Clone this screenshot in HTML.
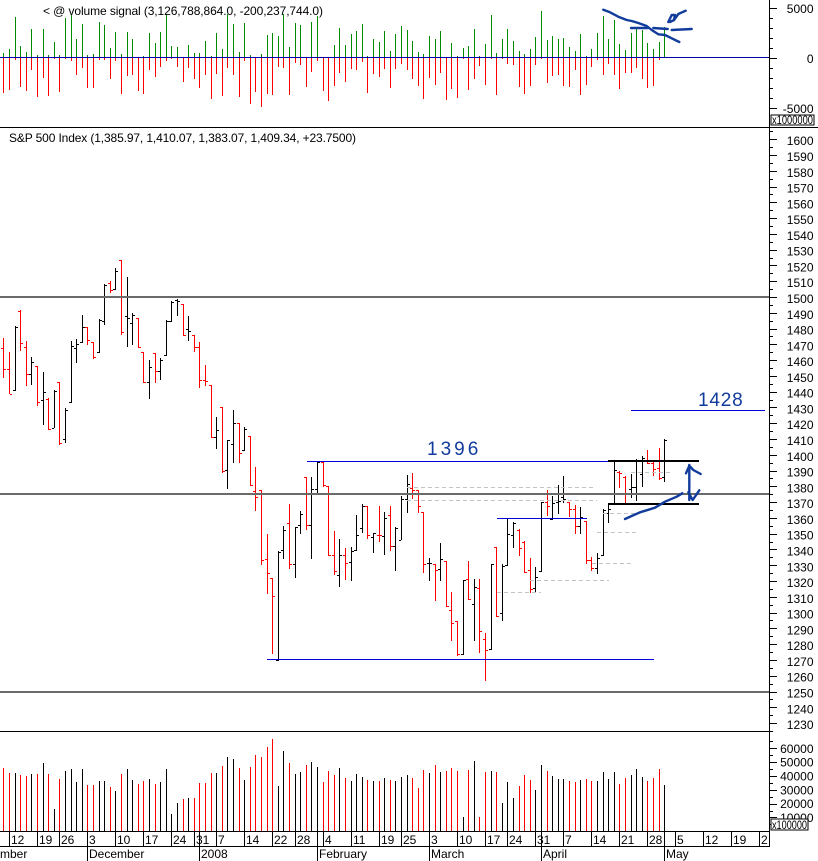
<!DOCTYPE html>
<html lang="en">
<head>
<meta charset="utf-8">
<title>S&amp;P 500 Index chart</title>
<style>
html,body{margin:0;padding:0;background:#fff;}
svg{display:block;font-family:"Liberation Sans",Arial,sans-serif;font-size:12px;fill:#000;}
</style>
</head>
<body>
<svg id="chart" xmlns="http://www.w3.org/2000/svg" width="818" height="861" viewBox="0 0 818 861" shape-rendering="crispEdges">
  <rect x="0" y="0" width="818" height="861" fill="#fff"/>
  <g id="signal-panel"></g>
  <g id="price-panel"></g>
  <g id="volume-panel"></g>
  <g id="annotations"></g>
  <g id="axes"></g>
  <text x="43" y="15" textLength="280">&lt; @ volume signal (3,126,788,864.0, -200,237,744.0)</text>
  <text x="9" y="142" textLength="347">S&amp;P 500 Index (1,385.97, 1,410.07, 1,383.07, 1,409.34, +23.7500)</text>
  <text x="427" y="455" font-size="19" letter-spacing="3" style="fill:#123c9c">1396</text>
  <text x="698" y="406" font-size="19" letter-spacing="0.8" style="fill:#123c9c">1428</text>
</svg>
<script>
const directions = "RRKRRKRKRKRKKKKRRKKRKRKKRRKRKKKKRKRRRRKRKKRKRRRRRKKRKKRKKRRRKRKKKRKRKRKKKRRRKRKRRRKRKRRKRKKKRRRKKRKKKRRKRRKKKKRRKKKRRRK".split("");
const opens = [1467.5,1454.2,1440.9,1491.4,1468.1,1451,1456.1,1434.5,1435.4,1417,
1446.2,1409.8,1433.3,1467.5,1471.7,1480.8,1471.5,1465,1484.6,1508.9,
1504.9,1523.5,1487.8,1483.3,1486.5,1465,1446,1464.5,1452.9,1463.1,
1484.8,1498.1,1495.6,1479.5,1475.7,1468.1,1447.4,1444.3,1411.5,1430.3,
1390.2,1406.7,1420,1402.9,1411.9,1376.9,1377.5,1333.8,1322,1269.8,
1339.5,1356.6,1330.6,1355.3,1386,1355.3,1378.1,1395.2,1380,1336.3,
1323.7,1336.3,1331.9,1339.7,1353.4,1367.6,1347.7,1349,1348.4,1361.7,
1342,1346,1371.8,1378.8,1377.5,1363.8,1331.2,1330.8,1327.4,1332.5,
1301.5,1294.7,1273.6,1321.1,1305.3,1315.4,1283.1,1276.7,1341.6,1299.6,
1330,1349,1352.6,1345,1326.8,1315.4,1326.2,1369.9,1359.3,1370.1,
1373.1,1369.9,1365.5,1354.7,1357.9,1333.1,1328.1,1336.3,1363.4,1369.3,
1389.1,1386.2,1378.1,1379.8,1387.6,1396.7,1395,1391.4,1385.97];
const highs = [1473.8,1465.2,1481.4,1491.8,1472.1,1462,1456.3,1452.5,1436,1440.9,
1446.2,1429.7,1472.1,1473.4,1488.6,1481,1471.5,1486.1,1508.3,1510.2,
1518.4,1523.5,1512.7,1489.9,1486.7,1465.2,1460.1,1464.5,1461.4,1485.4,
1497.5,1498.8,1495.6,1488,1475.9,1471.5,1456.9,1444.3,1424,1430.3,
1409.4,1428.4,1420.2,1417.7,1411.9,1392.3,1377.7,1349.8,1322,1339.1,
1354.9,1368.8,1354.3,1364.4,1386,1386,1395.5,1395.5,1380.3,1351.7,
1346.7,1341,1341.6,1361.9,1368.8,1367.6,1350.5,1367.6,1363.8,1367.6,
1354.3,1373.9,1387.2,1388.5,1377.7,1363.8,1334.6,1330.8,1344.1,1332.5,
1313.1,1294.7,1320.7,1332.7,1321.3,1321.3,1287.1,1330.6,1341.6,1330.6,
1359.8,1357.2,1352.8,1345.2,1334.6,1328.9,1370.1,1377.7,1373.9,1380.9,
1386.6,1370.1,1368.2,1366.9,1358.1,1335.3,1337.8,1365.7,1368.8,1396.1,
1389.7,1386.6,1387.8,1397.3,1399.2,1403,1396.1,1404.3,1410.07];
const lows = [1448.7,1438.8,1440.5,1465.8,1443.6,1444.3,1431,1418.9,1415.8,1417,
1406.2,1407.5,1432.9,1458.2,1470.9,1469.6,1460.7,1464.5,1482.3,1502.6,
1504.5,1475.9,1468.3,1469.6,1467.7,1445.5,1435.4,1445.5,1447.4,1462.6,
1484.2,1488,1475.3,1472.1,1465.2,1442.4,1443.6,1410.7,1403.7,1388.5,
1378.4,1394.8,1394.8,1402.4,1380.3,1364.4,1330.2,1311.8,1273.8,1269.4,
1334,1327.7,1322,1349.8,1352.4,1334,1375.8,1379.6,1335.9,1323.9,
1316.3,1320.7,1320.1,1339.1,1350.5,1346.7,1337.8,1344.8,1336.5,1339.1,
1326.4,1346,1363.1,1372,1363.1,1325.1,1320,1307.4,1320,1303.6,
1282,1272.5,1273.2,1308,1282,1274.4,1256.9,1276.3,1297.2,1294.7,
1329.5,1341,1335.9,1325.1,1312.4,1313.1,1325.7,1361.2,1358.7,1362.5,
1369.5,1360.6,1349.8,1349.8,1330.8,1326.4,1324.5,1335.9,1356.8,1368.8,
1379,1368.8,1372.6,1370.7,1379.6,1394.2,1386.6,1384,1383.07];
const closes = [1454.2,1438.8,1480.8,1470.7,1451,1458.6,1433.3,1439.6,1416.2,1440.5,
1407.3,1428.2,1469.2,1470,1480.8,1472.6,1462.2,1485.2,1507.6,1504.5,
1516.3,1477.6,1486.5,1488.4,1468.1,1446,1455.5,1452.9,1460.3,1484.6,
1496.9,1497.3,1475.7,1478.3,1468.1,1447.2,1447,1411.5,1415.5,1389.8,
1409.2,1420,1401.2,1416.2,1380.7,1373.1,1333.2,1324.9,1310.3,1338.2,
1352.2,1330.6,1354.3,1362.3,1355.3,1378.1,1395.2,1380.7,1336.3,1326.2,
1336.3,1331.3,1338.9,1349,1367.4,1349,1350.3,1349,1359.8,1342,
1353.4,1371.8,1381.3,1377.7,1367.4,1330.6,1331.2,1326.8,1333.8,1304,
1293.2,1273.6,1320.7,1308.4,1316.5,1288.2,1276.1,1330.6,1297.7,1329.5,
1349.6,1356.6,1341,1325.5,1314.8,1322.4,1369.9,1367.4,1369.3,1370.5,
1372.2,1365.5,1354.7,1360.4,1333.1,1328.1,1334.4,1364.8,1365.5,1390.2,
1388.3,1375.6,1379.4,1396.7,1397.8,1395,1390.8,1385.1,1409.34];
const volumes = [45800,42200,42200,40700,40000,41400,41400,49400,41400,16100,
37800,43600,45000,35700,45000,33500,33500,36400,36400,32000,
29200,41400,45000,37100,34200,36400,37800,34200,35700,45000,
12500,20500,23400,24100,24100,34900,34900,42200,42200,47200,
53700,52300,45800,37100,46500,55200,53700,61000,66700,32800,
58000,49400,41400,42900,48000,50000,46500,35700,43600,40700,
45800,38600,36400,41400,39300,37100,36400,36400,38600,37100,
36400,39300,40700,38600,31300,44300,42200,48000,42900,43600,
45800,43600,10400,44300,50800,10400,42900,43600,42900,20500,
35700,24100,32800,40700,37100,29900,48000,43600,40000,37800,
37800,36400,35700,37100,37800,36400,36400,42900,37800,42900,
34200,38600,40700,45000,39300,36400,38600,45000,33500];
const signalUp = [433,833,4033,1133,533,2833,233,2833,233,1533,
233,3933,4333,1833,3333,233,333,3533,3233,933,
2533,333,2533,1833,0,133,2433,1433,2533,4333,
1133,1033,0,1233,433,433,1633,133,2433,833,
4333,3333,533,3433,233,0,333,2233,2433,2133,
4333,1033,3433,3233,0,3533,4133,0,0,1233,
2933,1233,2333,2633,3333,133,1833,1533,2633,633,
2333,3133,2733,1633,533,333,2133,1833,2633,0,
1433,133,933,1133,2833,133,1333,4233,433,1833,
2833,1633,633,333,833,2033,4633,1733,2133,1833,
1933,1033,633,2333,133,833,2433,4133,1833,3733,
1333,733,2433,2833,2733,1433,833,1533,3033];
const signalDown = [-3533,-3267,-267,-2967,-3367,-1267,-3967,-2067,-3867,-167,
-3467,-167,-367,-1767,-1067,-3067,-3067,-267,-267,-2167,
-367,-3667,-1867,-1767,-3367,-3667,-1267,-1967,-967,-367,
-167,-967,-2467,-1067,-2167,-3067,-1767,-4167,-1667,-3867,
-1067,-1767,-3967,-367,-4667,-3467,-4967,-3667,-3767,-967,
-1067,-3767,-567,-767,-2967,-1467,-367,-3367,-4367,-2867,
-1567,-2467,-1167,-1267,-467,-3567,-1667,-1967,-1167,-3067,
-1167,-667,-1267,-2167,-2867,-4167,-2067,-2767,-1567,-4267,
-3167,-4067,-167,-3267,-2167,-867,-2767,-167,-3767,-167,
-667,-767,-2967,-3667,-2867,-767,-167,-2567,-1867,-1767,
-2867,-2967,-1267,-3767,-2767,-967,-267,-1767,-667,-1767,
-3167,-1567,-1567,-1067,-2167,-3067,-2867,-267];
const weekTickIndexes = [1,6,10,15,20,25,30,34,38,43,48,52,57,62,67,71,76,81,86,90,95,100,105,110,115,120,125,130,135];
const weekTickLabels = ["12","19","26","3","10","17","24","31","7","14","22","28","4","11","19","25","3","10","17","24","31","7","14","21","28","5","12","19","2"];
const monthTickIndexes = [15,35,56,76,96,118];
const monthTickLabels = ["December","2008","February","March","April","May"];
const signalTickLabels = [5000,0,-5000];
const volumeTickLabels = [60000,50000,40000,30000,20000,10000];
const priceLevels = [1500,1375,1250];

const NS = "http://www.w3.org/2000/svg";
const RED = "#ff0000", BLACK = "#000000", GREEN = "#008c00", BLUE = "#0000e0", INK = "#123c9c", GRAY = "#6a6a6a";
const AXIS_X = 769;

function xOf(i){ return Math.round(3.4 + 5.6 * i); }
function priceY(p){ return 297 + (1500 - p) * 1.578; }
function signalY(v){ return 57.5 - v * 0.01; }
function volumeY(v){ return 831.3 - v * 0.001383; }

function rect(parent, x, y, w, h, fill){
  const el = document.createElementNS(NS, "rect");
  el.setAttribute("x", x);
  el.setAttribute("y", y);
  el.setAttribute("width", w);
  el.setAttribute("height", h);
  el.setAttribute("fill", fill);
  parent.appendChild(el);
  return el;
}
function label(parent, str, x, y, anchor){
  const el = document.createElementNS(NS, "text");
  el.setAttribute("x", x);
  el.setAttribute("y", y);
  if (anchor) el.setAttribute("text-anchor", anchor);
  el.textContent = str;
  parent.appendChild(el);
  return el;
}
function stroke(parent, pts, w, col){
  const el = document.createElementNS(NS, "polyline");
  el.setAttribute("points", pts.map(p => p.join(",")).join(" "));
  el.setAttribute("fill", "none");
  el.setAttribute("stroke", col);
  el.setAttribute("stroke-width", w);
  el.setAttribute("stroke-linecap", "round");
  el.setAttribute("stroke-linejoin", "round");
  el.setAttribute("shape-rendering", "auto");
  parent.appendChild(el);
  return el;
}

const signalPanel = document.getElementById("signal-panel");
const pricePanel = document.getElementById("price-panel");
const volumePanel = document.getElementById("volume-panel");
const annotations = document.getElementById("annotations");
const axes = document.getElementById("axes");

/* signal panel */
opens.forEach((_, i) => {
  const x = xOf(i);
  const y0 = Math.round(signalY(0));
  const yU = Math.round(signalY(signalUp[i]));
  const yD = Math.round(signalY(signalDown[i]));
  if (signalUp[i] > 0) {
    const up = rect(signalPanel, x, yU, 1, y0 - yU, GREEN);
    
    
  }
  const down = rect(signalPanel, x, y0, 1, yD - y0, RED);
  
  
});
const signalBase = rect(signalPanel, 0, Math.round(signalY(0)) - 1, AXIS_X, 1, "#0000a8");



/* price panel */
opens.forEach((_, i) => {
  const x = xOf(i);
  const col = directions[i] === "R" ? RED : BLACK;
  const g = document.createElementNS(NS, "g");
  
  
  const yH = Math.round(priceY(highs[i]));
  const yL = Math.round(priceY(lows[i]));
  rect(g, x, yH, 1, Math.max(1, yL - yH), col);
  rect(g, x - 2, Math.round(priceY(opens[i])), 2, 1, col);
  rect(g, x + 1, Math.round(priceY(closes[i])), 2, 1, col);
  pricePanel.appendChild(g);
});

/* volume panel */
volumes.forEach((v, i) => {
  const y = Math.round(volumeY(v));
  const bar = rect(volumePanel, xOf(i), y, 1, 831 - y, directions[i] === "R" ? RED : BLACK);
  
  
});

/* annotations */
priceLevels.forEach(p => {
  const line = rect(annotations, 0, Math.round(priceY(p)) - 1, AXIS_X, 2, GRAY);
  
  
});
[[407,596,1379.4],[407,597,1371.2],[631,670,1388.9],[603,640,1363],[597,636,1351],[592,631,1331.4],[530,609,1320.7],[497,541,1313]].forEach(d => {
  const y = Math.round(priceY(d[2]));
  const dash = document.createElementNS(NS, "line");
  
  
  dash.setAttribute("x1", d[0]);
  dash.setAttribute("x2", d[1]);
  dash.setAttribute("y1", y + 0.5);
  dash.setAttribute("y2", y + 0.5);
  dash.setAttribute("stroke", "#c4c4c4");
  dash.setAttribute("stroke-dasharray", "4 3");
  annotations.appendChild(dash);
});
[[307,608,1396],[267,654,1270.4],[497,587,1360],[631,765,1428.5]].forEach(d => {
  const line = rect(annotations, d[0], Math.round(priceY(d[2])), d[1] - d[0], 1, BLUE);
  
  
});
[[1396],[1369]].forEach(d => {
  const line = rect(annotations, 608, Math.round(priceY(d[0])) - 1, 91, 2, BLACK);
  
  
});
const inkStrokes = [
  [[603.3,9.7],[610,12.3],[618.3,16.7],[626.7,20],[631.7,21],[638.3,23],[646.7,26],[651.7,30],[658.3,34.3],[665,35],[671.7,38.3],[679.3,42]],
  [[631,28],[648,28]],
  [[653.3,28],[667.7,29]],
  [[671.7,30],[691.7,29]],
  [[668.3,22],[671.7,15],[675,15],[674,20],[670,22]],
  [[674,20],[678.3,14],[685.7,10.7]],
  [[689.3,465],[689.3,500]],
  [[686,473.3],[689.3,465.7],[693.3,470],[700.7,474]],
  [[688.3,492.3],[692.7,500],[699.3,490.3]],
  [[625,519],[640,512.3],[655,507.7],[665,501.7],[676.7,496.7],[682.3,493.3]]
];
inkStrokes.forEach(pts => {
  const s = stroke(annotations, pts, 2.4, INK);
  
  
});

/* axes frame */
const sep1 = rect(axes, 0, 127, 818, 1, BLACK);


const sep2 = rect(axes, 0, 731, AXIS_X, 1, BLACK);


const axisLine = rect(axes, AXIS_X, 0, 1, 846, BLACK);


const dateLine1 = rect(axes, 0, 831, AXIS_X, 1, BLACK);


const dateLine2 = rect(axes, 0, 846, AXIS_X + 1, 1, BLACK);



/* signal axis */
for (let v = -5000; v <= 5000; v += 1000) {
  const long = v % 5000 === 0;
  rect(axes, AXIS_X + 1, Math.round(signalY(v)), long ? 7 : 3, 1, BLACK);
}
signalTickLabels.forEach(v => {
  const t = label(axes, String(v), 813.5, signalY(v) + 5.5, "end");
  
  
});
const box1 = rect(axes, 771, 115, 43, 10, "#fff");
box1.setAttribute("stroke", BLACK);


const mult1 = label(axes, "x1000000", 772, 124);
mult1.setAttribute("textLength", "41");
mult1.setAttribute("lengthAdjust", "spacingAndGlyphs");



/* price axis */
for (let p = 1225; p <= 1605; p += 5) {
  const long = p % 10 === 0;
  rect(axes, AXIS_X + 1, Math.round(priceY(p)), long ? 7 : 3, 1, BLACK);
  if (long) {
    const t = label(axes, String(p), 813.5, priceY(p) + 6, "end");
    
    
  }
}

/* volume axis */
for (let v = 5000; v <= 65000; v += 5000) {
  const long = v % 10000 === 0;
  rect(axes, AXIS_X + 1, Math.round(volumeY(v)), long ? 7 : 3, 1, BLACK);
}
volumeTickLabels.forEach(v => {
  const t = label(axes, String(v), 813.5, volumeY(v) + 4.5, "end");
  
  
});
const box2 = rect(axes, 771, 819, 37, 11, "#fff");
box2.setAttribute("stroke", BLACK);


const mult2 = label(axes, "x100000", 772, 829);
mult2.setAttribute("textLength", "35");
mult2.setAttribute("lengthAdjust", "spacingAndGlyphs");



/* date axis */
weekTickIndexes.forEach((idx, k) => {
  const x = xOf(idx);
  rect(axes, x, 831, 1, 15, BLACK);
  const t = label(axes, weekTickLabels[k], x + 2, 844);
  
  
});
monthTickIndexes.forEach((idx, k) => {
  const x = xOf(idx);
  rect(axes, x, 831, 1, 30, BLACK);
  const t = label(axes, monthTickLabels[k], x + 2, 858);
  
  
});
const novLabel = label(axes, "mber", 0, 858);


</script>
</body>
</html>
